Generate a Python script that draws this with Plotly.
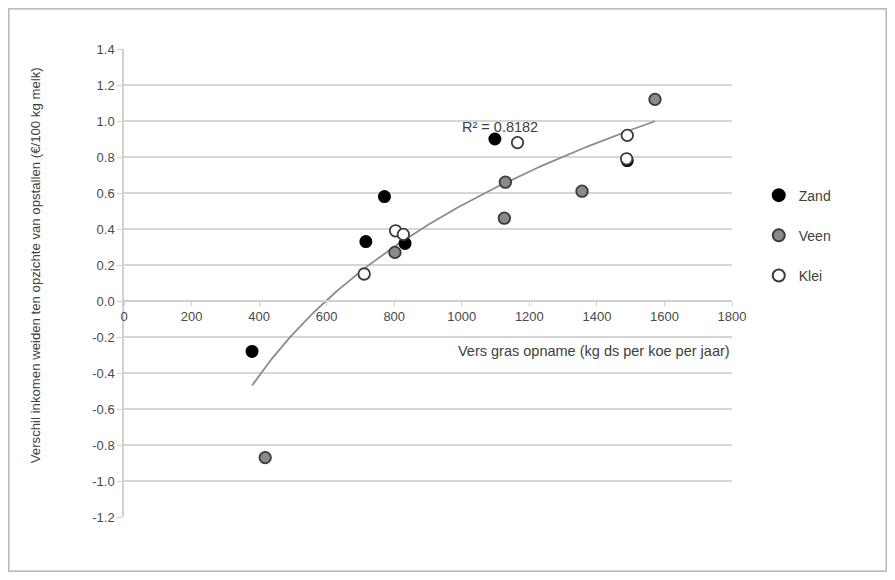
import numpy as np
import plotly.graph_objects as go

# Data
zand_x = [379, 716, 771, 832, 1098, 1490]
zand_y = [-0.28, 0.33, 0.58, 0.32, 0.90, 0.78]

veen_x = [418, 802, 1126, 1129, 1356, 1572]
veen_y = [-0.87, 0.27, 0.46, 0.66, 0.61, 1.12]

klei_x = [711, 804, 827, 1165, 1488, 1490]
klei_y = [0.15, 0.39, 0.37, 0.88, 0.79, 0.92]

series_names = ["Zand", "Veen", "Klei"]
x_ticks = [0, 200, 400, 600, 800, 1000, 1200, 1400, 1600, 1800]
y_ticks = [1.4, 1.2, 1.0, 0.8, 0.6, 0.4, 0.2, 0.0, -0.2, -0.4, -0.6, -0.8, -1.0, -1.2]
r2_label = "R² = 0.8182"
x_title = "Vers gras opname (kg ds per koe per jaar)"
y_title = "Verschil inkomen weiden ten opzichte van opstallen (€/100 kg melk)"

# Logarithmic trend line fitted on all points
all_x = np.array(zand_x + veen_x + klei_x, dtype=float)
all_y = np.array(zand_y + veen_y + klei_y, dtype=float)
a, b = np.polyfit(np.log(all_x), all_y, 1)
tx = np.linspace(all_x.min(), all_x.max(), 120)
ty = a * np.log(tx) + b

FONT = "Liberation Sans, Arial, sans-serif"
TXT = "#404040"

fig = go.Figure()

fig.add_trace(go.Scatter(
    x=tx, y=ty, mode="lines", showlegend=False, hoverinfo="skip",
    line=dict(color="#8c8c8c", width=1.8),
))

styles = [
    dict(color="#000000", line=dict(color="#000000", width=1.5)),
    dict(color="#8a8a8a", line=dict(color="#3a3a3a", width=1.8)),
    dict(color="#ffffff", line=dict(color="#3a3a3a", width=1.8)),
]
for name, xs, ys, st in zip(series_names, [zand_x, veen_x, klei_x], [zand_y, veen_y, klei_y], styles):
    fig.add_trace(go.Scatter(
        x=xs, y=ys, mode="markers", name=name, legendgroup=name,
        marker=dict(size=11.5, symbol="circle", **st),
    ))

ymin, ymax = -1.2, 1.4
zero_pos = (0 - ymin) / (ymax - ymin)

W, H = 879, 564
L, T = 116, 41
PW, PH = 608, 468

fig.update_layout(
    width=W, height=H,
    margin=dict(l=L, r=W - L - PW, t=T, b=H - T - PH),
    paper_bgcolor="white", plot_bgcolor="white",
    font=dict(family=FONT, size=13, color=TXT),
    showlegend=True,
    legend=dict(
        x=1.044, y=0.721, xanchor="left", yanchor="top",
        font=dict(size=14, color=TXT), tracegroupgap=19,
        traceorder="grouped", itemsizing="constant", itemwidth=30,
        bgcolor="rgba(0,0,0,0)",
    ),
    xaxis=dict(
        range=[0, 1800], tickvals=x_ticks, ticktext=[str(v) for v in x_ticks],
        anchor="free", position=zero_pos,
        showline=True, linecolor="#d0d0d0", linewidth=1.5,
        ticks="outside", ticklen=4, tickcolor="#d0d0d0",
        showgrid=False, zeroline=False,
        tickfont=dict(size=13, color="#4a4a4a"),
    ),
    yaxis=dict(
        range=[ymin, ymax], tickvals=y_ticks, ticktext=[f"{v:.1f}" for v in y_ticks],
        showline=True, linecolor="#d0d0d0", linewidth=1.5,
        ticks="outside", ticklen=5, tickcolor="#d0d0d0",
        showgrid=True, gridcolor="#d6d6d6", gridwidth=1.6,
        zeroline=False,
        tickfont=dict(size=13, color="#4a4a4a"),
    ),
    annotations=[
        dict(text=r2_label, x=1114, y=0.965, xref="x", yref="y", showarrow=False,
             font=dict(size=14.5, color=TXT)),
        dict(text=x_title, x=1.0, xanchor="right", y=0.355, yref="paper", xref="paper",
             yanchor="middle", showarrow=False, font=dict(size=14.5, color=TXT)),
        dict(text=y_title, textangle=-90, x=-0.1464, xref="paper", xanchor="center",
             y=0.538, yref="paper", yanchor="middle", showarrow=False,
             font=dict(size=13.2, color=TXT)),
    ],
    shapes=[
        dict(type="rect", xref="paper", yref="paper",
             x0=(0.8 - L) / PW, x1=(W - 0.8 - L) / PW,
             y0=(T + PH - (H - 0.8)) / PH, y1=(T + PH - 0.8) / PH,
             line=dict(color="#a6a6a6", width=1.2), fillcolor="rgba(0,0,0,0)", layer="below"),
    ],
)

fig.write_html("out.html")
